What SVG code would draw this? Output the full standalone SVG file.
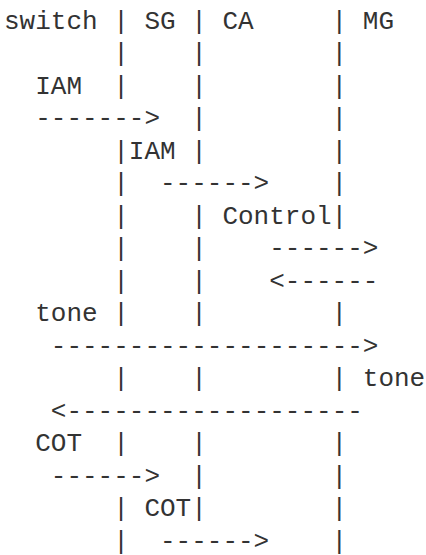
<svg xmlns="http://www.w3.org/2000/svg" width="426" height="555" viewBox="0 0 426 555">
  <style>
    text { font-family: "Liberation Mono", "DejaVu Sans Mono", monospace; font-size: 26px; fill: #333333; white-space: pre; }
  </style>
  <rect width="426" height="555" fill="#ffffff"/>

  <!-- character grid: column i starts at x = 4 + 15.6*i, row n baseline at 28.5 + 32.5*(n-1) -->

  <!-- participant headers -->
  <g id="switch">
    <text x="4" y="28.5">switch</text>
  </g>
  <g id="SG">
    <text x="144.4" y="28.5">SG</text>
  </g>
  <g id="CA">
    <text x="222.4" y="28.5">CA</text>
  </g>
  <g id="MG">
    <text x="362.8" y="28.5">MG</text>
  </g>

  <!-- lifelines drawn with bar characters -->
  <g id="lifeline-1">
    <text x="113.2" y="28.5">|</text>
    <text x="113.2" y="61">|</text>
    <text x="113.2" y="93.5">|</text>
    <text x="113.2" y="158.5">|</text>
    <text x="113.2" y="191">|</text>
    <text x="113.2" y="223.5">|</text>
    <text x="113.2" y="256">|</text>
    <text x="113.2" y="288.5">|</text>
    <text x="113.2" y="321">|</text>
    <text x="113.2" y="386">|</text>
    <text x="113.2" y="451">|</text>
    <text x="113.2" y="516">|</text>
    <text x="113.2" y="548.5">|</text>
  </g>
  <g id="lifeline-2">
    <text x="191.2" y="28.5">|</text>
    <text x="191.2" y="61">|</text>
    <text x="191.2" y="93.5">|</text>
    <text x="191.2" y="126">|</text>
    <text x="191.2" y="158.5">|</text>
    <text x="191.2" y="223.5">|</text>
    <text x="191.2" y="256">|</text>
    <text x="191.2" y="288.5">|</text>
    <text x="191.2" y="321">|</text>
    <text x="191.2" y="386">|</text>
    <text x="191.2" y="451">|</text>
    <text x="191.2" y="483.5">|</text>
    <text x="191.2" y="516">|</text>
  </g>
  <g id="lifeline-3">
    <text x="331.6" y="28.5">|</text>
    <text x="331.6" y="61">|</text>
    <text x="331.6" y="93.5">|</text>
    <text x="331.6" y="126">|</text>
    <text x="331.6" y="158.5">|</text>
    <text x="331.6" y="191">|</text>
    <text x="331.6" y="223.5">|</text>
    <text x="331.6" y="321">|</text>
    <text x="331.6" y="386">|</text>
    <text x="331.6" y="451">|</text>
    <text x="331.6" y="483.5">|</text>
    <text x="331.6" y="516">|</text>
    <text x="331.6" y="548.5">|</text>
  </g>

  <!-- messages -->
  <g id="connectors">
    <text x="35.2" y="126">-------&gt;</text>
    <text x="160" y="191">------&gt;</text>
    <text x="269.2" y="256">------&gt;</text>
    <text x="269.2" y="288.5">&lt;------</text>
    <text x="50.8" y="353.5">--------------------&gt;</text>
    <text x="50.8" y="418.5">&lt;-------------------</text>
    <text x="50.8" y="483.5">------&gt;</text>
    <text x="160" y="548.5">------&gt;</text>
  </g>

  <!-- message labels -->
  <g id="labels">
    <text x="35.2" y="93.5">IAM</text>
    <text x="128.8" y="158.5">IAM</text>
    <text x="222.4" y="223.5">Control</text>
    <text x="35.2" y="321">tone</text>
    <text x="362.8" y="386">tone</text>
    <text x="35.2" y="451">COT</text>
    <text x="144.4" y="516">COT</text>
  </g>
</svg>
